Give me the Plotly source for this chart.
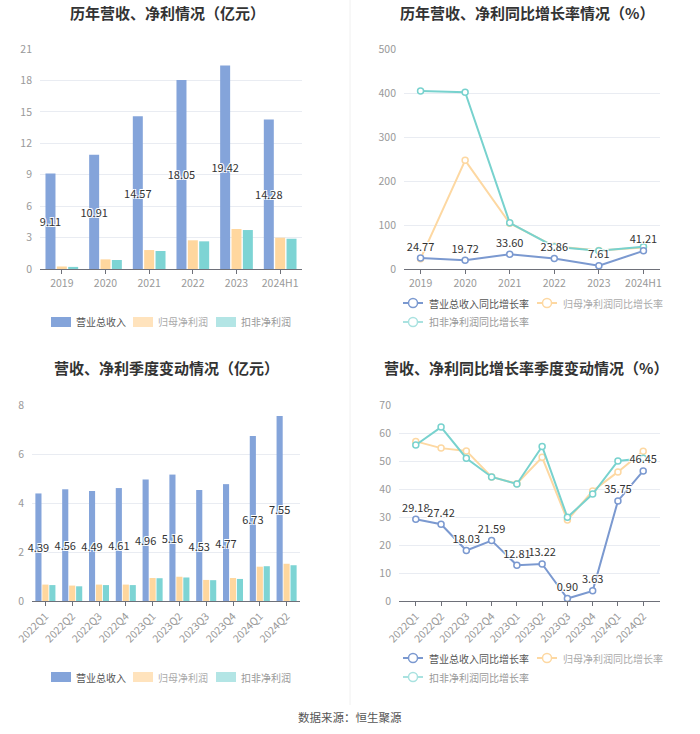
import plotly.graph_objects as go

# ---------------- data ----------------
years = ["2019", "2020", "2021", "2022", "2023", "2024H1"]
rev_annual = [9.11, 10.91, 14.57, 18.05, 19.42, 14.28]
np_annual = [0.24, 0.92, 1.81, 2.74, 3.82, 2.99]
dnp_annual = [0.20, 0.86, 1.72, 2.64, 3.72, 2.89]

rev_growth_annual = [24.77, 19.72, 33.60, 23.86, 7.61, 41.21]
np_growth_annual = [23.5, 247.0, 104.0, 51.5, 42.0, 49.0]
dnp_growth_annual = [404.5, 401.6, 105.0, 50.7, 41.6, 50.7]

quarters = ["2022Q1", "2022Q2", "2022Q3", "2022Q4", "2023Q1",
            "2023Q2", "2023Q3", "2023Q4", "2024Q1", "2024Q2"]
rev_q = [4.39, 4.56, 4.49, 4.61, 4.96, 5.16, 4.53, 4.77, 6.73, 7.55]
np_q = [0.67, 0.63, 0.67, 0.67, 0.94, 0.99, 0.86, 0.94, 1.40, 1.52]
dnp_q = [0.65, 0.60, 0.65, 0.65, 0.93, 0.96, 0.85, 0.90, 1.42, 1.46]

rev_growth_q = [29.18, 27.42, 18.03, 21.59, 12.81, 13.22, 0.90, 3.63, 35.75, 46.45]
np_growth_q = [57.0, 54.6, 53.6, 44.3, 41.9, 51.3, 28.9, 39.3, 46.1, 53.5]
dnp_growth_q = [55.7, 62.1, 51.0, 44.3, 41.8, 55.2, 29.9, 38.2, 50.0, 51.0]

bar_names = ["营业总收入", "归母净利润", "扣非净利润"]
line_names = ["营业总收入同比增长率", "归母净利润同比增长率", "扣非净利润同比增长率"]
titles = ["历年营收、净利情况（亿元）", "历年营收、净利同比增长率情况（%）",
          "营收、净利季度变动情况（亿元）", "营收、净利同比增长率季度变动情况（%）"]
source_text = "数据来源：恒生聚源"

# ---------------- style ----------------
W, H = 700, 734
FONT = "Noto Sans CJK SC, Noto Sans, sans-serif"
C_REV = "#84A4DA"
C_NP = "#FFD79E"
C_DNP = "#7DD4D4"
L_REV = "#7B99D0"
L_NP = "#FDD8A2"
L_DNP = "#78D2CE"
LEG_NP = "#FFE3BD"
LEG_DNP = "#B3E5E5"
SHADOW = "-1px -1px 0 #fff, 1px -1px 0 #fff, -1px 1px 0 #fff, 1px 1px 0 #fff"


def px(x):
    return x / W


def py(y):
    return 1 - y / H


fig = go.Figure()

# ---------------- panel 1: annual bars ----------------
def rev_bar(x, y, xa, ya):
    return go.Bar(x=x, y=y, name=bar_names[0], marker=dict(color=C_REV, line=dict(width=0)),
                  texttemplate="%{y:.2f}", textposition="inside", insidetextanchor="middle",
                  textangle=0, constraintext="none",
                  insidetextfont=dict(size=11, color="#333", family=FONT, shadow=SHADOW),
                  cliponaxis=False, xaxis=xa, yaxis=ya, showlegend=False)


def plain_bar(x, y, name, color, xa, ya):
    return go.Bar(x=x, y=y, name=name, marker=dict(color=color, line=dict(width=0)),
                  xaxis=xa, yaxis=ya, showlegend=False)


fig.add_trace(rev_bar(years, rev_annual, "x", "y"))
fig.add_trace(plain_bar(years, np_annual, bar_names[1], C_NP, "x", "y"))
fig.add_trace(plain_bar(years, dnp_annual, bar_names[2], C_DNP, "x", "y"))


# ---------------- panel 2: annual growth lines ----------------
def line(x, y, color, name, xa, ya, labels=False):
    if labels:
        kw = dict(mode="lines+markers+text", texttemplate="%{y:.2f}", textposition="top center",
                  textfont=dict(size=11, color="#333", family=FONT, shadow=SHADOW))
    else:
        kw = dict(mode="lines+markers")
    return go.Scatter(x=x, y=y, name=name, line=dict(color=color, width=2),
                      marker=dict(symbol="circle", size=6, color="#fff",
                                  line=dict(color=color, width=1.5)),
                      xaxis=xa, yaxis=ya, showlegend=False, cliponaxis=False, **kw)


fig.add_trace(line(years, np_growth_annual, L_NP, line_names[1], "x2", "y2"))
fig.add_trace(line(years, dnp_growth_annual, L_DNP, line_names[2], "x2", "y2"))
fig.add_trace(line(years, rev_growth_annual, L_REV, line_names[0], "x2", "y2", labels=True))

# ---------------- panel 3: quarterly bars ----------------
fig.add_trace(rev_bar(quarters, rev_q, "x3", "y3"))
fig.add_trace(plain_bar(quarters, np_q, bar_names[1], C_NP, "x3", "y3"))
fig.add_trace(plain_bar(quarters, dnp_q, bar_names[2], C_DNP, "x3", "y3"))

# ---------------- panel 4: quarterly growth lines ----------------
fig.add_trace(line(quarters, np_growth_q, L_NP, line_names[1], "x4", "y4"))
fig.add_trace(line(quarters, dnp_growth_q, L_DNP, line_names[2], "x4", "y4"))
fig.add_trace(line(quarters, rev_growth_q, L_REV, line_names[0], "x4", "y4", labels=True))

# ---------------- axes ----------------
tickfont = dict(size=10.5, color="#999", family=FONT)


def xax(domain, anchor, angle=0):
    return dict(domain=domain, anchor=anchor, type="category", showline=True, linecolor="#6E7079",
                linewidth=1, ticks="outside", ticklen=4, tickcolor="#6E7079", showgrid=False,
                zeroline=False, tickfont=tickfont, tickangle=angle, fixedrange=True, automargin=False)


def yax(domain, anchor, rng, dtick):
    return dict(domain=domain, anchor=anchor, range=rng, dtick=dtick, tick0=0, showgrid=True,
                gridcolor="#E9ECF2", gridwidth=1, zeroline=False, showline=False,
                tickfont=tickfont, ticks="", ticklabelstandoff=7, fixedrange=True, automargin=False)


top_dom = [py(269), py(49)]
bot_dom = [py(601), py(405)]
fig.update_layout(
    template="none",
    xaxis=xax([px(40), px(302)], "y"),
    yaxis=yax(top_dom, "x", [0, 21], 3),
    xaxis2=xax([px(404), px(660)], "y2"),
    yaxis2=yax(top_dom, "x2", [0, 500], 100),
    xaxis3=xax([px(32), px(300)], "y3", -45),
    yaxis3=yax(bot_dom, "x3", [0, 8], 2),
    xaxis4=xax([px(399), px(660)], "y4", -45),
    yaxis4=yax(bot_dom, "x4", [0, 70], 10),
)

# ---------------- titles / source ----------------
ann = []
for t, cx, cy in zip(titles, [167, 527, 166, 526], [12, 12, 367, 367]):
    ann.append(dict(text="<b>" + t + "</b>", x=px(cx), y=py(cy), xref="paper", yref="paper",
                    xanchor="center", yanchor="middle", showarrow=False,
                    font=dict(size=15, color="#333", family=FONT)))
ann.append(dict(text=source_text, x=px(350), y=py(717), xref="paper", yref="paper",
                xanchor="center", yanchor="middle", showarrow=False,
                font=dict(size=11.5, color="#555", family=FONT)))

shapes = [dict(type="line", xref="paper", yref="paper", x0=px(350), x1=px(350),
               y0=py(0), y1=py(705), line=dict(color="#F0F0F0", width=1))]

# ---------------- custom legends ----------------
bar_leg_cols = [C_REV, LEG_NP, LEG_DNP]
bar_txt_cols = ["#555", "#aaa", "#999"]
bar_leg_x = [51, 133, 216]
for ly in [322, 677]:
    for name, col, tcol, lx in zip(bar_names, bar_leg_cols, bar_txt_cols, bar_leg_x):
        shapes.append(dict(type="rect", xref="paper", yref="paper", x0=px(lx), x1=px(lx + 20),
                           y0=py(ly + 5), y1=py(ly - 5), fillcolor=col, line=dict(width=0)))
        ann.append(dict(text=name, x=px(lx + 23), y=py(ly), xref="paper", yref="paper",
                        xanchor="left", yanchor="middle", showarrow=False,
                        font=dict(size=10, color=tcol, family=FONT)))

line_leg_cols = [L_REV, L_NP, "#A9E2E0"]
line_txt_cols = ["#555", "#aaa", "#999"]
for row1, row2 in [(303, 322), (658, 677)]:
    pos = [(403, row1), (537, row1), (403, row2)]
    for name, col, tcol, (lx, ly) in zip(line_names, line_leg_cols, line_txt_cols, pos):
        shapes.append(dict(type="line", xref="paper", yref="paper", x0=px(lx), x1=px(lx + 20),
                           y0=py(ly), y1=py(ly), line=dict(color=col, width=2)))
        shapes.append(dict(type="circle", xref="paper", yref="paper", x0=px(lx + 5.5), x1=px(lx + 14.5),
                           y0=py(ly + 4.5), y1=py(ly - 4.5), fillcolor="#fff",
                           line=dict(color=col, width=1.5)))
        ann.append(dict(text=name, x=px(lx + 24), y=py(ly), xref="paper", yref="paper",
                        xanchor="left", yanchor="middle", showarrow=False,
                        font=dict(size=10, color=tcol, family=FONT)))

fig.update_layout(
    width=W, height=H, margin=dict(l=0, r=0, t=0, b=0, autoexpand=False),
    paper_bgcolor="#fff", plot_bgcolor="#fff",
    barmode="group", bargap=0.22, bargroupgap=0.12,
    font=dict(family=FONT, color="#333"),
    annotations=ann, shapes=shapes, showlegend=False,
)

fig.write_html("out.html", config={"displayModeBar": False},
               post_script="document.body.style.margin='0';document.body.style.overflow='hidden';")
